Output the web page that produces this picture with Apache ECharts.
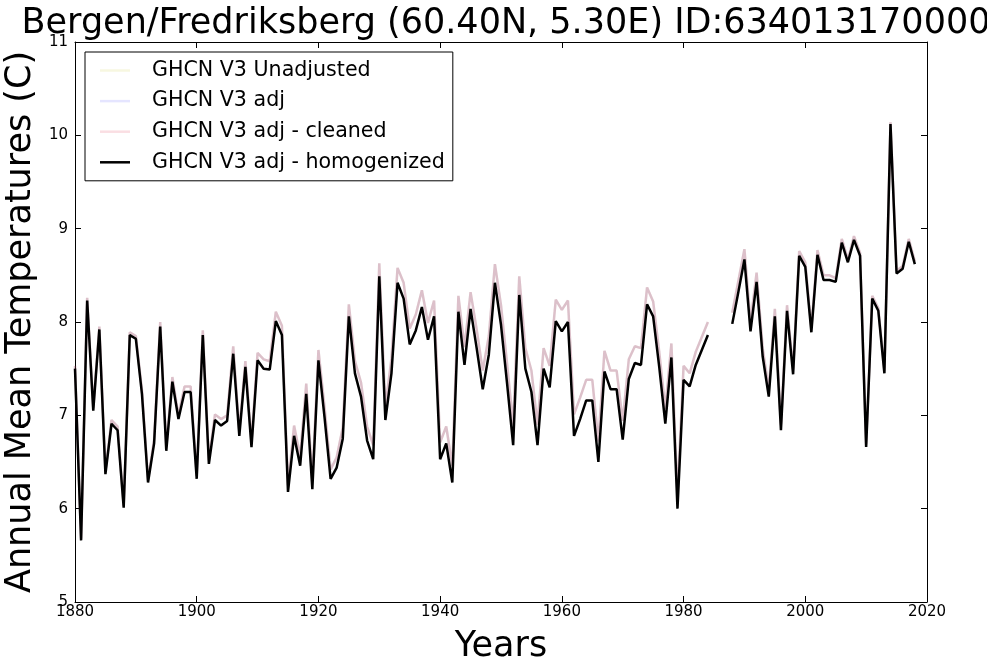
<!DOCTYPE html>
<html>
<head>
<meta charset="utf-8">
<script src="https://cdn.jsdelivr.net/npm/echarts@6/dist/echarts.min.js"></script>
<style>
  html, body { margin: 0; padding: 0; background: #fff; }
  #chart { width: 987px; height: 672px; }
</style>
</head>
<body>
<div id="chart"></div>
<script>
// years 1880..2018, null = missing year
const startYear = 1880;

const homogenized = [
  7.50, 5.66, 8.23, 7.05, 7.92, 6.37, 6.91, 6.84, 6.01, 7.86,
  7.82, 7.23, 6.28, 6.70, 7.95, 6.62, 7.36, 6.96, 7.25, 7.25,
  6.32, 7.86, 6.48, 6.95, 6.89, 6.94, 7.66, 6.78, 7.52, 6.66,
  7.59, 7.50, 7.49, 8.01, 7.86, 6.18, 6.78, 6.46, 7.23, 6.21,
  7.59, 6.98, 6.32, 6.44, 6.75, 8.06, 7.45, 7.20, 6.73, 6.53,
  8.49, 6.95, 7.45, 8.42, 8.25, 7.76, 7.91, 8.16, 7.81, 8.06,
  6.53, 6.70, 6.28, 8.11, 7.54, 8.14, 7.72, 7.28, 7.65, 8.42,
  7.97, 7.34, 6.68, 8.29, 7.50, 7.25, 6.68, 7.50, 7.30, 8.01,
  7.90, 8.00, 6.78, 6.96, 7.16, 7.16, 6.50, 7.47, 7.28, 7.28,
  6.74, 7.39, 7.56, 7.54, 8.19, 8.06, 7.52, 6.91, 7.62, 6.00,
  7.38, 7.31, 7.54, 7.70, 7.86, null, null, null, 7.98, 8.32,
  8.67, 7.90, 8.43, 7.63, 7.20, 8.06, 6.84, 8.12, 7.44, 8.71,
  8.59, 7.89, 8.72, 8.45, 8.45, 8.43, 8.85, 8.64, 8.88, 8.71,
  6.66, 8.25, 8.12, 7.45, 10.12, 8.52, 8.57, 8.86, 8.62
];

const cleaned = [
  7.53, 5.68, 8.26, 7.08, 7.95, 6.40, 6.95, 6.88, 6.03, 7.89,
  7.85, 7.27, 6.31, 6.74, 8.00, 6.66, 7.41, 7.00, 7.31, 7.31,
  6.35, 7.91, 6.52, 7.01, 6.96, 7.00, 7.74, 6.83, 7.58, 6.71,
  7.67, 7.60, 7.58, 8.11, 7.96, 6.25, 6.89, 6.56, 7.34, 6.30,
  7.70, 7.09, 6.42, 6.55, 6.87, 8.19, 7.58, 7.35, 6.88, 6.68,
  8.63, 7.09, 7.61, 8.58, 8.42, 7.93, 8.08, 8.34, 7.99, 8.23,
  6.71, 6.88, 6.46, 8.28, 7.73, 8.32, 7.92, 7.48, 7.85, 8.62,
  8.18, 7.55, 6.90, 8.49, 7.72, 7.48, 6.90, 7.72, 7.53, 8.24,
  8.13, 8.23, 7.01, 7.19, 7.38, 7.38, 6.72, 7.69, 7.48, 7.48,
  6.94, 7.60, 7.74, 7.72, 8.37, 8.22, 7.68, 7.07, 7.77, 6.14,
  7.53, 7.45, 7.68, 7.84, 8.00, null, null, null, 8.10, 8.44,
  8.78, 8.00, 8.53, 7.72, 7.28, 8.14, 6.90, 8.18, 7.49, 8.76,
  8.64, 7.93, 8.77, 8.50, 8.50, 8.47, 8.89, 8.67, 8.92, 8.74,
  6.69, 8.28, 8.15, 7.48, 10.14, 8.55, 8.60, 8.89, 8.65
];

// unadjusted and adj lie under the cleaned line in the picture
const unadjusted = cleaned.slice();
const adjusted = cleaned.slice();

const seriesNames = [
  'GHCN V3 Unadjusted',
  'GHCN V3 adj',
  'GHCN V3 adj - cleaned',
  'GHCN V3 adj - homogenized'
];
const seriesColors = [
  'rgba(191,191,0,0.12)',
  'rgba(0,0,255,0.10)',
  'rgba(220,0,40,0.13)',
  '#000000'
];

const FONT = 'DejaVu Sans';

function toPairs(values) {
  return values.map((v, i) => [startYear + i, v]);
}

function lineSeries(name, values, color) {
  return {
    name: name,
    type: 'line',
    data: toPairs(values),
    symbol: 'none',
    connectNulls: false,
    animation: false,
    lineStyle: { color: color, width: 2.5 },
    itemStyle: { color: color }
  };
}

const chart = echarts.init(document.getElementById('chart'), null, { renderer: 'canvas' });

const tickStyle = { show: true, inside: true, length: 6, lineStyle: { color: '#000', width: 1 } };
const lineAxis = { show: true, lineStyle: { color: '#000', width: 1 } };

chart.setOption({
  backgroundColor: '#fff',
  animation: false,
  title: {
    text: 'Bergen/Fredriksberg (60.40N, 5.30E) ID:634013170000',
    left: 501,
    textAlign: 'center',
    top: 1,
    textStyle: { fontFamily: FONT, fontSize: 35, fontWeight: 'normal', color: '#000' }
  },
  grid: { left: 75, right: 60, top: 42, bottom: 70, containLabel: false, outerBoundsMode: 'none' },
  legend: {
    data: seriesNames,
    orient: 'vertical',
    left: 85,
    top: 52,
    padding: [8, 8, 8, 15],
    itemGap: 9.6,
    itemWidth: 30,
    itemHeight: 2.5,
    icon: 'rect',
    backgroundColor: '#fff',
    borderColor: '#000',
    borderWidth: 1,
    borderRadius: 0,
    selectedMode: false,
    textStyle: { fontFamily: FONT, fontSize: 20.6, color: '#000', padding: [0, 0, 0, 17] }
  },
  xAxis: [
    {
      type: 'value',
      min: 1880, max: 2020, interval: 20,
      name: 'Years',
      nameLocation: 'middle',
      nameGap: 27,
      nameTextStyle: { fontFamily: FONT, fontSize: 35, color: '#000' },
      axisLine: lineAxis,
      axisTick: tickStyle,
      axisLabel: { fontFamily: FONT, fontSize: 15, color: '#000', margin: 3, formatter: v => String(v) },
      splitLine: { show: false }
    },
    {
      type: 'value',
      position: 'top',
      min: 1880, max: 2020, interval: 20,
      axisLine: lineAxis,
      axisTick: tickStyle,
      axisLabel: { show: false },
      splitLine: { show: false }
    }
  ],
  yAxis: [
    {
      type: 'value',
      min: 5, max: 11, interval: 1,
      name: 'Annual Mean Temperatures (C)',
      nameLocation: 'middle',
      nameGap: 28,
      nameTextStyle: { fontFamily: FONT, fontSize: 35, color: '#000' },
      axisLine: lineAxis,
      axisTick: tickStyle,
      axisLabel: { fontFamily: FONT, fontSize: 15, color: '#000', margin: 7 },
      splitLine: { show: false }
    },
    {
      type: 'value',
      position: 'right',
      min: 5, max: 11, interval: 1,
      axisLine: lineAxis,
      axisTick: tickStyle,
      axisLabel: { show: false },
      splitLine: { show: false }
    }
  ],
  series: [
    lineSeries(seriesNames[0], unadjusted, seriesColors[0]),
    lineSeries(seriesNames[1], adjusted, seriesColors[1]),
    lineSeries(seriesNames[2], cleaned, seriesColors[2]),
    lineSeries(seriesNames[3], homogenized, seriesColors[3])
  ]
});
</script>
</body>
</html>
